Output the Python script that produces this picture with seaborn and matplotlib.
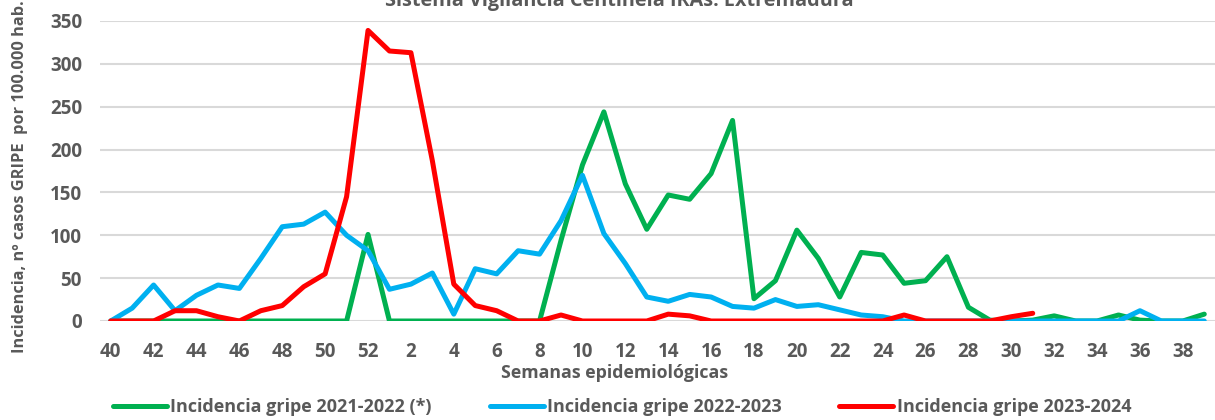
import pandas as pd
import matplotlib
matplotlib.use('Agg')
import matplotlib.pyplot as plt
import seaborn as sns

# Semanas epidemiologicas (temporada 40 -> 39)
weeks = list(range(40, 53)) + list(range(1, 40))

# Incidencia gripe por 100.000 hab.
gripe_2122 = [0, 0, 0, 0, 0, 0, 0, 0, 0, 0, 0, 0, 101, 0, 0, 0, 0, 0, 0, 0,
              0, 94, 182, 244, 160, 107, 147, 142, 172, 234, 26, 47, 106, 73, 28, 80,
              77, 44, 47, 75, 16, 1, 0, 1, 6, 0, 0, 7, 1, 0, 0, 8]
gripe_2223 = [0, 15, 42, 12, 30, 42, 38, 73, 110, 113, 127, 100, 82, 37, 43, 56, 8, 61, 55, 82,
              78, 117, 170, 102, 67, 28, 23, 31, 28, 17, 15, 25, 17, 19, 13, 7,
              5, 0, 0, 0, 0, 0, 0, 0, 0, 0, 0, 0, 12, 0, 0, 0]
gripe_2324 = [0, 0, 0, 12, 12, 5, 0, 12, 18, 40, 55, 145, 339, 315, 313, 187, 43, 18, 12, 0,
              0, 7, 0, 0, 0, 0, 8, 6, 0, 0, 0, 0, 0, 0, 0, 0,
              0, 7, 0, 0, 0, 0, 5, 9]

series = {
    'Incidencia gripe 2021-2022 (*)': gripe_2122,
    'Incidencia gripe 2022-2023': gripe_2223,
    'Incidencia gripe 2023-2024': gripe_2324,
}
colors = ['#00B050', '#00B0F0', '#FF0000']

frames = []
for name, vals in series.items():
    frames.append(pd.DataFrame({'pos': range(len(vals)), 'incidencia': vals, 'temporada': name}))
df = pd.concat(frames, ignore_index=True)

sns.set_style('white')
plt.rcParams['font.family'] = ['Open Sans', 'DejaVu Sans']
grey = '#595959'

fig = plt.figure(figsize=(12.15, 4.2), dpi=100)
ax = fig.add_axes([100 / 1215, 1 - 321 / 420, 1 - 100 / 1215, 300 / 420])

sns.lineplot(data=df, x='pos', y='incidencia', hue='temporada',
             hue_order=list(series.keys()), palette=colors, linewidth=3.6,
             sort=False, estimator=None, ax=ax,
             solid_capstyle='round', solid_joinstyle='round')

ax.set_xlim(-0.5, len(weeks) - 0.5)
ax.set_ylim(0, 350)
ax.set_yticks(range(0, 351, 50))
ax.set_xticks(range(0, len(weeks), 2))
ax.set_xticklabels([str(w) for w in weeks[::2]])
ax.yaxis.grid(True, color='#d9d9d9', linewidth=1.5)
ax.set_axisbelow(True)
for s in ax.spines.values():
    s.set_visible(False)
ax.tick_params(axis='both', length=0, labelsize=13.5, labelcolor=grey)
ax.tick_params(axis='y', pad=13)
ax.tick_params(axis='x', pad=15)
for lab in ax.get_xticklabels() + ax.get_yticklabels():
    lab.set_fontweight('bold')
ax.set_xlabel('')
ax.set_ylabel('')

handles, labels = ax.get_legend_handles_labels()
ax.get_legend().remove()
fig.legend(handles, labels, loc='center', bbox_to_anchor=(622 / 1215, 1 - 407 / 420),
           ncol=3, frameon=False, handlelength=3.0, columnspacing=3.2, handletextpad=0.17,
           prop={'weight': 'bold', 'size': 13}, labelcolor=grey)

fig.text(619 / 1215, 1 - 6 / 420, 'Sistema Vigilancia Centinela IRAs. Extremadura',
         ha='center', va='baseline', fontsize=14.3, fontweight='bold', color=grey)
fig.text(615 / 1215, 1 - 373 / 420, 'Semanas epidemiológicas',
         ha='center', va='center', fontsize=12.8, fontweight='bold', color=grey)
fig.text(20 / 1215, 1 - 177 / 420, 'Incidencia, nº casos GRIPE  por 100.000 hab.',
         ha='center', va='center', rotation=90, fontsize=11.8, fontweight='bold', color=grey)

fig.savefig('out.png', dpi=100)
